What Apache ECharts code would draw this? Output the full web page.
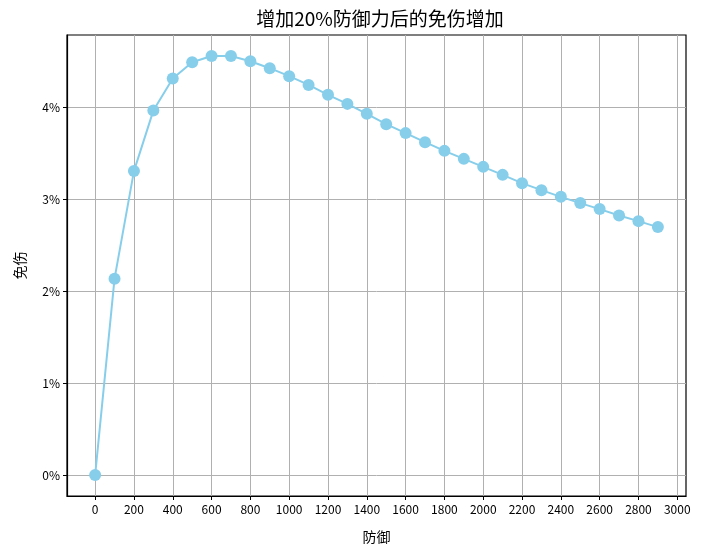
<!DOCTYPE html>
<html><head><meta charset="utf-8">
<script src="https://cdn.jsdelivr.net/npm/echarts@6/dist/echarts.min.js"></script>
<style>html,body{margin:0;padding:0;background:#fff}#c{width:720px;height:553px}</style>
</head><body><div id="c"></div>
<script>
const defense = [0,100,200,300,400,500,600,700,800,900,1000,1100,1200,1300,1400,1500,1600,1700,1800,1900,2000,2100,2200,2300,2400,2500,2600,2700,2800,2900];
const reductionPct = [0,2.135,3.305,3.963,4.311,4.489,4.557,4.557,4.500,4.424,4.337,4.242,4.134,4.036,3.928,3.815,3.718,3.620,3.525,3.438,3.351,3.264,3.174,3.098,3.025,2.957,2.892,2.822,2.761,2.696];
const xTicks = [0,200,400,600,800,1000,1200,1400,1600,1800,2000,2200,2400,2600,2800,3000];
const yTicks = [0,1,2,3,4];
const titleText = '增加20%防御力后的免伤增加';
const xName = '防御';
const yName = '免伤';

const font = '"Noto Sans CJK SC", "DejaVu Sans", sans-serif';
const chart = echarts.init(document.getElementById('c'));
chart.setOption({
  animation: false,
  backgroundColor: '#fff',
  title: { text: titleText, left: 375, top: 4, textAlign: 'center',
    textStyle: { fontFamily: font, fontSize: 19, fontWeight: 'normal', color: '#000' } },
  grid: { left: 67, right: 34, top: 35, bottom: 57, show: true, borderColor: '#000', borderWidth: 1.2, backgroundColor: 'transparent' },
  xAxis: {
    type: 'value', min: -145, max: 3045,
    name: xName, nameLocation: 'middle', nameGap: 34,
    nameTextStyle: { fontFamily: font, fontSize: 14, color: '#000' },
    axisLine: { show: true, onZero: false, lineStyle: { color: '#000', width: 1.2 } },
    axisTick: { show: true, customValues: xTicks, length: 4, lineStyle: { color: '#000' } },
    axisLabel: { customValues: xTicks, formatter: v => String(v), fontFamily: font, fontSize: 12, color: '#000', margin: 7 },
    splitLine: { show: true, lineStyle: { color: '#b0b0b0', width: 1 } }
  },
  yAxis: {
    type: 'value', min: -0.228, max: 4.785,
    name: yName, nameLocation: 'middle', nameGap: 40, nameRotate: 90,
    nameTextStyle: { fontFamily: font, fontSize: 14, color: '#000' },
    axisLine: { show: true, onZero: false, lineStyle: { color: '#000', width: 1.2 } },
    axisTick: { show: true, customValues: yTicks, length: 4, lineStyle: { color: '#000' } },
    axisLabel: { customValues: yTicks, formatter: v => v + '%', fontFamily: font, fontSize: 12, color: '#000', margin: 7 },
    splitLine: { show: true, lineStyle: { color: '#b0b0b0', width: 1 } }
  },
  series: [{
    type: 'line',
    data: defense.map((d, i) => [d, reductionPct[i]]),
    symbol: 'circle', symbolSize: 12, showSymbol: true,
    lineStyle: { color: '#87CEEB', width: 2 },
    itemStyle: { color: '#87CEEB' }
  }]
});
</script></body></html>
